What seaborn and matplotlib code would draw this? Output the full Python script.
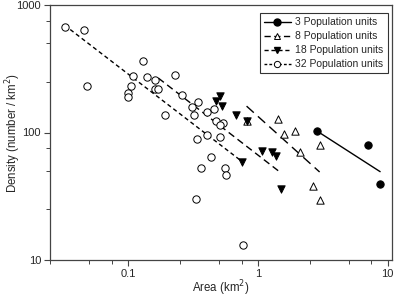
import numpy as np
import pandas as pd
import matplotlib
matplotlib.use("Agg")
import matplotlib.pyplot as plt
from matplotlib.lines import Line2D
from matplotlib.ticker import FixedLocator, FixedFormatter, NullFormatter
import seaborn as sns

# ---- data ----
area_3 = [2.84, 7.06, 8.75]
dens_3 = [103, 79.8, 39.2]

area_8 = [0.826, 1.43, 1.59, 1.92, 2.10, 2.99, 2.66, 2.99]
dens_8 = [122, 127, 97.9, 102, 70.7, 79.5, 38.0, 29.6]

area_18 = [0.515, 0.477, 0.525, 0.673, 0.826, 0.758, 1.07, 1.29, 1.37, 1.50]
dens_18 = [194, 177, 161, 137, 122, 59.2, 71.0, 70.6, 65.4, 35.9]

area_32 = [0.0327, 0.0459, 0.0482, 0.131, 0.109, 0.141, 0.162, 0.231, 0.105, 0.0998,
           0.100, 0.162, 0.170, 0.259, 0.194, 0.348, 0.311, 0.324, 0.407, 0.463,
           0.475, 0.543, 0.506, 0.402, 0.340, 0.506, 0.439, 0.362, 0.560, 0.571,
           0.333, 0.762]
dens_32 = [676, 640, 232, 366, 279, 272, 257, 281, 230, 204,
           191, 218, 218, 196, 136, 175, 159, 138, 144, 152,
           122, 119, 114, 96.4, 89.3, 91.7, 64.5, 52.7, 52.2, 46.2,
           30.1, 13.1]

# fitted lines (end points)
fit_3_x = [2.84, 8.75]
fit_3_y = [103, 49.3]
fit_8_x = [0.818, 2.99]
fit_8_y = [161, 49.0]
fit_18_x = [0.171, 1.50]
fit_18_y = [267, 48.4]
fit_32_x = [0.0358, 0.758]
fit_32_y = [642, 59.0]

labels = ["3 Population units", "8 Population units",
          "18 Population units", "32 Population units"]

sns.set_style("ticks")
plt.rcParams['font.family'] = ['Liberation Sans', 'DejaVu Sans']

fig = plt.figure(figsize=(3.97, 3.02), dpi=100)
ax = fig.add_axes([50/397, 42/302, 342/397, 255/302])

dash_styles = {
    "3": "-",
    "8": (0, (7, 4)),
    "18": (0, (5, 3)),
    "32": (0, (3, 2.2)),
}

# lines
for key, xs, ys in [("3", fit_3_x, fit_3_y), ("8", fit_8_x, fit_8_y),
                    ("18", fit_18_x, fit_18_y), ("32", fit_32_x, fit_32_y)]:
    d = pd.DataFrame({"x": xs, "y": ys})
    sns.lineplot(data=d, x="x", y="y", ax=ax, color="black", lw=1.0,
                 legend=False, zorder=2, estimator=None, sort=False)
    ax.lines[-1].set_linestyle(dash_styles[key])

ms = 28
d8 = pd.DataFrame({"x": area_8, "y": dens_8})
sns.scatterplot(data=d8, x="x", y="y", ax=ax, marker="^", s=ms, facecolor="white",
                edgecolor="black", linewidth=0.7, zorder=3, legend=False)
d18 = pd.DataFrame({"x": area_18, "y": dens_18})
sns.scatterplot(data=d18, x="x", y="y", ax=ax, marker="v", s=ms, color="black",
                edgecolor="black", linewidth=0.7, zorder=4, legend=False)
d32 = pd.DataFrame({"x": area_32, "y": dens_32})
sns.scatterplot(data=d32, x="x", y="y", ax=ax, marker="o", s=ms, facecolor="white",
                edgecolor="black", linewidth=0.7, zorder=5, legend=False)
d3 = pd.DataFrame({"x": area_3, "y": dens_3})
sns.scatterplot(data=d3, x="x", y="y", ax=ax, marker="o", s=ms, color="black",
                edgecolor="black", linewidth=0.7, zorder=6, legend=False)

ax.set_xscale("log")
ax.set_yscale("log")
ax.set_xlim(0.025, 10.8)
ax.set_ylim(10, 1000)

ax.xaxis.set_major_locator(FixedLocator([0.1, 1, 10]))
ax.xaxis.set_major_formatter(FixedFormatter(["0.1", "1", "10"]))
ax.xaxis.set_minor_locator(FixedLocator([0.025, 0.05, 0.075, 0.25, 0.5, 0.75, 2.5, 5, 7.5]))
ax.xaxis.set_minor_formatter(NullFormatter())
ax.yaxis.set_major_locator(FixedLocator([10, 100, 1000]))
ax.yaxis.set_major_formatter(FixedFormatter(["10", "100", "1000"]))
ax.yaxis.set_minor_locator(FixedLocator([25, 50, 75, 250, 500, 750]))
ax.yaxis.set_minor_formatter(NullFormatter())

ax.tick_params(which="major", direction="out", length=4.5, width=0.8,
               color="#444444", labelsize=8, pad=2)
ax.tick_params(which="minor", direction="out", length=3, width=0.7, color="#444444")
for sp in ax.spines.values():
    sp.set_visible(True)
    sp.set_color("#444444")
    sp.set_linewidth(0.9)

ax.set_xlabel("Area (km$^2$)", fontsize=8.3)
ax.set_ylabel("Density (number / km$^2$)", fontsize=8.3)
ax.xaxis.set_label_coords(0.5, -0.072)
ax.yaxis.set_label_coords(-0.08, 0.5)

handles = [
    Line2D([], [], color="black", lw=1.0, ls="-", marker="o", ms=5,
           mfc="black", mec="black"),
    Line2D([], [], color="black", lw=1.0, ls=(0, (4.5, 2.5)), marker="^", ms=4.5,
           mfc="white", mec="black", mew=0.7),
    Line2D([], [], color="black", lw=1.0, ls=(0, (3, 2)), marker="v", ms=4.5,
           mfc="black", mec="black"),
    Line2D([], [], color="black", lw=1.0, ls=(0, (2, 1.5)), marker="o", ms=4.5,
           mfc="white", mec="black", mew=0.7),
]
leg = ax.legend(handles, labels, loc="upper right", bbox_to_anchor=(0.988, 0.968),
                fontsize=7.5, frameon=True, fancybox=False, handlelength=2.6,
                handletextpad=0.45, borderpad=0.4, labelspacing=0.38,
                borderaxespad=0.0)
leg.get_frame().set_edgecolor("black")
leg.get_frame().set_linewidth(0.8)

fig.savefig("out.png", dpi=100)
